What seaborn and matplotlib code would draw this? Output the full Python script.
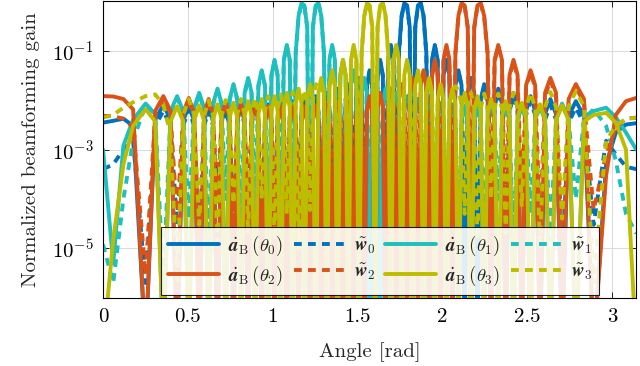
"""
Normalized beamforming gain of the derivative steering vectors a_B(theta_i)
and their hybrid approximations w_i over the angle range [0, pi].
"""

import matplotlib
matplotlib.use("Agg")
import matplotlib.pyplot as plt
from matplotlib.ticker import NullLocator
import seaborn as sns

NUL = 1e-7  # deep null, drawn below the axis floor

# angle grid [rad]
ANGLES = [
    0.0000, 0.0600, 0.1200, 0.1770, 0.2507, 0.3074, 0.3554, 0.3979, 0.4365, 0.4721, 0.5054, 0.5368,
    0.5666, 0.5950, 0.6224, 0.6487, 0.6746, 0.6988, 0.7227, 0.7461, 0.7688, 0.7910,
    0.8127, 0.8341, 0.8550, 0.8754, 0.8957, 0.9155, 0.9351, 0.9544, 0.9734, 0.9922,
    1.0107, 1.0291, 1.0472, 1.0652, 1.0829, 1.1005, 1.1180, 1.1353, 1.1524, 1.1695,
    1.1864, 1.2032, 1.2199, 1.2365, 1.2530, 1.2694, 1.2857, 1.3020, 1.3181, 1.3342,
    1.3503, 1.3663, 1.3822, 1.3981, 1.4139, 1.4297, 1.4455, 1.4612, 1.4769, 1.4926,
    1.5083, 1.5239, 1.5395, 1.5552, 1.5708, 1.5864, 1.6021, 1.6177, 1.6333, 1.6490,
    1.6647, 1.6804, 1.6961, 1.7119, 1.7277, 1.7435, 1.7594, 1.7753, 1.7913, 1.8074,
    1.8235, 1.8396, 1.8559, 1.8722, 1.8886, 1.9051, 1.9217, 1.9384, 1.9552, 1.9721,
    1.9892, 2.0063, 2.0236, 2.0411, 2.0587, 2.0764, 2.0944, 2.1125, 2.1309, 2.1494,
    2.1682, 2.1872, 2.2065, 2.2261, 2.2459, 2.2662, 2.2866, 2.3075, 2.3289, 2.3506,
    2.3728, 2.3955, 2.4189, 2.4428, 2.4670, 2.4929, 2.5192, 2.5466, 2.5750, 2.6048,
    2.6362, 2.6695, 2.7051, 2.7437, 2.7862, 2.8342, 2.8909, 2.9646, 3.0216, 3.0816, 3.1416,
]

# a_B(theta_0), blue
GAIN_A0 = [
    3.5e-3, 3.8e-3, 4.2e-3, 3.0e-3, NUL, 4.0e-3, 8.0e-3, 4.0e-3, NUL, 3.8e-3, 7.6e-3, 3.8e-3,
    NUL, 3.7e-3, 7.4e-3, 3.7e-3, NUL, 3.7e-3, 7.4e-3, 3.7e-3, NUL, 3.7e-3,
    7.5e-3, 3.7e-3, NUL, 3.9e-3, 7.8e-3, 3.9e-3, NUL, 4.1e-3, 8.2e-3, 4.1e-3,
    NUL, 4.4e-3, 8.8e-3, 4.4e-3, NUL, 4.7e-3, 9.5e-3, 4.7e-3, NUL, 5.2e-3,
    1.05e-2, 5.2e-3, NUL, 6.0e-3, 1.2e-2, 6.0e-3, NUL, 7.0e-3, 1.4e-2, 7.0e-3,
    NUL, 8.5e-3, 1.7e-2, 8.5e-3, NUL, 1.05e-2, 2.1e-2, 1.05e-2, NUL, 1.4e-2,
    2.8e-2, 1.4e-2, NUL, 2.0e-2, 4.0e-2, 2.0e-2, NUL, 3.2e-2, 6.5e-2, 3.2e-2,
    NUL, 6.5e-2, 0.13, 6.5e-2, NUL, 0.09, 0.51, 0.91, 0.82, 0.30,
    NUL, 0.30, 0.82, 0.91, 0.51, 0.09, NUL, 6.5e-2, 0.13, 6.5e-2,
    NUL, 3.2e-2, 6.5e-2, 3.2e-2, NUL, 2.0e-2, 4.0e-2, 2.0e-2, NUL, 1.4e-2,
    2.8e-2, 1.4e-2, NUL, 1.05e-2, 2.1e-2, 1.05e-2, NUL, 8.5e-3, 1.7e-2, 8.5e-3,
    NUL, 7.0e-3, 1.4e-2, 7.0e-3, NUL, 6.0e-3, 1.2e-2, 6.0e-3, NUL, 5.2e-3,
    1.05e-2, 5.2e-3, NUL, 4.7e-3, 9.5e-3, 4.7e-3, NUL, 5e-4, 2.2e-3, 3.2e-3, 3.4e-3,
]

# w_0, blue dashed
GAIN_W0 = [
    4e-4, 5e-4, 1.0e-3, 1.5e-3, 2e-6, 3.0e-3, 6.0e-3, 3.0e-3, 3e-5, 3.0e-3, 6.5e-3, 3.0e-3,
    1e-5, 3.0e-3, 6.0e-3, 3.0e-3, 8e-5, 3.0e-3, 6.2e-3, 3.0e-3, 2e-5, 3.2e-3,
    6.5e-3, 3.2e-3, 1e-4, 3.3e-3, 6.8e-3, 3.3e-3, 1.5e-5, 3.6e-3, 7.2e-3, 3.6e-3,
    6e-5, 4.0e-3, 7.8e-3, 4.0e-3, 2e-5, 4.2e-3, 8.5e-3, 4.2e-3, 1e-4, 4.6e-3,
    9.5e-3, 4.6e-3, 3e-5, 5.5e-3, 1.1e-2, 5.5e-3, 8e-6, 6.5e-3, 1.3e-2, 6.5e-3,
    5e-5, 8.0e-3, 1.6e-2, 8.0e-3, 2e-5, 1.0e-2, 2.0e-2, 1.0e-2, 1e-4, 1.3e-2,
    2.7e-2, 1.3e-2, 3e-5, 1.9e-2, 3.8e-2, 1.9e-2, 1e-5, 3.0e-2, 6.0e-2, 3.0e-2,
    2e-4, 6.0e-2, 0.12, 6.0e-2, 5e-5, 0.08, 0.48, 0.88, 0.80, 0.28,
    1e-6, 0.28, 0.80, 0.90, 0.50, 0.085, 4e-5, 6.0e-2, 0.125, 6.0e-2,
    1e-5, 3.0e-2, 6.2e-2, 3.0e-2, 1.5e-4, 1.9e-2, 3.8e-2, 1.9e-2, 3e-5, 1.3e-2,
    2.6e-2, 1.3e-2, 8e-6, 9.5e-3, 1.9e-2, 9.5e-3, 6e-5, 7.5e-3, 1.5e-2, 7.5e-3,
    2e-5, 6.0e-3, 1.2e-2, 6.0e-3, 1e-4, 5.0e-3, 9.5e-3, 5.0e-3, 2e-5, 4.0e-3,
    8.0e-3, 4.0e-3, 5e-6, 3.5e-3, 7.0e-3, 3.3e-3, 3e-5, 1.5e-3, 8e-4, 4.5e-4, 4e-4,
]

# a_B(theta_1), cyan
GAIN_A1 = [
    1.0e-3, 5e-6, 1.2e-3, 4.0e-3, 8.5e-3, 5.2e-3, NUL, 6.0e-3, 1.2e-2, 6.0e-3, NUL, 7.0e-3,
    1.4e-2, 7.0e-3, NUL, 8.5e-3, 1.7e-2, 8.5e-3, NUL, 1.05e-2, 2.1e-2, 1.05e-2,
    NUL, 1.4e-2, 2.8e-2, 1.4e-2, NUL, 2.0e-2, 4.0e-2, 2.0e-2, NUL, 3.2e-2,
    6.5e-2, 3.2e-2, NUL, 6.5e-2, 0.13, 6.5e-2, NUL, 0.09, 0.51, 0.91,
    0.82, 0.30, NUL, 0.30, 0.82, 0.91, 0.51, 0.09, NUL, 6.5e-2,
    0.13, 6.5e-2, NUL, 3.2e-2, 6.5e-2, 3.2e-2, NUL, 2.0e-2, 4.0e-2, 2.0e-2,
    NUL, 1.4e-2, 2.8e-2, 1.4e-2, NUL, 1.05e-2, 2.1e-2, 1.05e-2, NUL, 8.5e-3,
    1.7e-2, 8.5e-3, NUL, 7.0e-3, 1.4e-2, 7.0e-3, NUL, 6.0e-3, 1.2e-2, 6.0e-3,
    NUL, 5.2e-3, 1.05e-2, 5.2e-3, NUL, 4.7e-3, 9.5e-3, 4.7e-3, NUL, 4.4e-3,
    8.8e-3, 4.4e-3, NUL, 4.1e-3, 8.2e-3, 4.1e-3, NUL, 3.9e-3, 7.8e-3, 3.9e-3,
    NUL, 3.7e-3, 7.5e-3, 3.7e-3, NUL, 3.7e-3, 7.4e-3, 3.7e-3, NUL, 3.7e-3,
    7.4e-3, 3.7e-3, NUL, 3.8e-3, 7.6e-3, 3.8e-3, NUL, 4.0e-3, 8.0e-3, 4.0e-3,
    NUL, 4.2e-3, 8.5e-3, 4.2e-3, NUL, 4.6e-3, 6.0e-3, 7.0e-3, 4.5e-3, 2.2e-3, 1.0e-3,
]

# w_1, cyan dashed
GAIN_W1 = [
    1.2e-5, 2e-6, 1e-4, 1.5e-3, 8.0e-3, 5.0e-3, 2e-6, 5.5e-3, 1.1e-2, 5.5e-3, 4e-5, 6.5e-3,
    1.3e-2, 6.5e-3, 1e-5, 8.0e-3, 1.6e-2, 8.0e-3, 1e-4, 1.0e-2, 2.0e-2, 1.0e-2,
    2e-5, 1.3e-2, 2.7e-2, 1.3e-2, 6e-5, 1.9e-2, 3.8e-2, 1.9e-2, 1e-5, 3.0e-2,
    6.2e-2, 3.0e-2, 1.5e-4, 6.2e-2, 0.125, 6.2e-2, 3e-5, 0.085, 0.49, 0.88,
    0.80, 0.29, 1e-6, 0.29, 0.80, 0.90, 0.50, 0.085, 2e-5, 6.2e-2,
    0.125, 6.2e-2, 1e-4, 3.0e-2, 6.2e-2, 3.0e-2, 1e-5, 1.9e-2, 3.8e-2, 1.9e-2,
    5e-5, 1.3e-2, 2.7e-2, 1.3e-2, 2e-5, 1.0e-2, 2.0e-2, 1.0e-2, 1.2e-4, 8.0e-3,
    1.6e-2, 8.0e-3, 1e-5, 6.8e-3, 1.35e-2, 6.8e-3, 6e-5, 5.8e-3, 1.15e-2, 5.8e-3,
    2e-5, 5.0e-3, 1.0e-2, 5.0e-3, 1e-4, 4.6e-3, 9.2e-3, 4.6e-3, 1.5e-5, 4.3e-3,
    8.5e-3, 4.3e-3, 5e-5, 4.0e-3, 8.0e-3, 4.0e-3, 1e-5, 3.8e-3, 7.6e-3, 3.8e-3,
    8e-5, 3.6e-3, 7.2e-3, 3.6e-3, 2e-5, 3.5e-3, 7.1e-3, 3.5e-3, 1e-4, 3.5e-3,
    7.0e-3, 3.5e-3, 1e-5, 3.6e-3, 7.2e-3, 3.6e-3, 5e-5, 3.8e-3, 7.5e-3, 3.8e-3,
    1.5e-5, 4.0e-3, 8.0e-3, 4.0e-3, 1e-4, 4.2e-3, 6.5e-3, 3.0e-3, 6e-4, 5e-5, 2e-5,
]

# a_B(theta_2), orange
GAIN_A2 = [
    1.2e-2, 1.18e-2, 1.05e-2, 6.5e-3, NUL, 6.0e-3, 1.2e-2, 6.0e-3, NUL, 5.5e-3, 1.1e-2, 5.5e-3,
    NUL, 5.2e-3, 1.05e-2, 5.2e-3, NUL, 4.6e-3, 9.3e-3, 4.6e-3, NUL, 4.2e-3,
    8.5e-3, 4.2e-3, NUL, 4.0e-3, 8.0e-3, 4.0e-3, NUL, 3.8e-3, 7.6e-3, 3.8e-3,
    NUL, 3.7e-3, 7.4e-3, 3.7e-3, NUL, 3.7e-3, 7.4e-3, 3.7e-3, NUL, 3.7e-3,
    7.5e-3, 3.7e-3, NUL, 3.9e-3, 7.8e-3, 3.9e-3, NUL, 4.1e-3, 8.2e-3, 4.1e-3,
    NUL, 4.4e-3, 8.8e-3, 4.4e-3, NUL, 4.7e-3, 9.5e-3, 4.7e-3, NUL, 5.2e-3,
    1.05e-2, 5.2e-3, NUL, 6.0e-3, 1.2e-2, 6.0e-3, NUL, 7.0e-3, 1.4e-2, 7.0e-3,
    NUL, 8.5e-3, 1.7e-2, 8.5e-3, NUL, 1.05e-2, 2.1e-2, 1.05e-2, NUL, 1.4e-2,
    2.8e-2, 1.4e-2, NUL, 2.0e-2, 4.0e-2, 2.0e-2, NUL, 3.2e-2, 6.5e-2, 3.2e-2,
    NUL, 6.5e-2, 0.13, 6.5e-2, NUL, 0.09, 0.51, 0.91, 0.82, 0.30,
    NUL, 0.30, 0.82, 0.91, 0.51, 0.09, NUL, 6.5e-2, 0.13, 6.5e-2,
    NUL, 3.2e-2, 6.5e-2, 3.2e-2, NUL, 2.0e-2, 4.0e-2, 2.0e-2, NUL, 1.4e-2,
    2.8e-2, 1.4e-2, NUL, 1.05e-2, 2.1e-2, 1.05e-2, NUL, 3e-4, 5.0e-3, 9.5e-3, 1.1e-2,
]

# w_2, orange dashed
GAIN_W2 = [
    4.8e-3, 4.7e-3, 4.2e-3, 2.8e-3, 3e-6, 5.0e-3, 1.05e-2, 5.0e-3, 4e-5, 4.8e-3, 9.8e-3, 4.8e-3,
    1e-5, 4.5e-3, 9.0e-3, 4.5e-3, 1e-4, 4.2e-3, 8.5e-3, 4.2e-3, 2e-5, 4.0e-3,
    8.0e-3, 4.0e-3, 6e-5, 3.6e-3, 7.2e-3, 3.6e-3, 1e-5, 3.5e-3, 7.1e-3, 3.5e-3,
    1.2e-4, 3.4e-3, 6.9e-3, 3.4e-3, 2e-5, 3.5e-3, 7.0e-3, 3.5e-3, 5e-5, 3.6e-3,
    7.2e-3, 3.6e-3, 8e-6, 3.8e-3, 7.6e-3, 3.8e-3, 1e-4, 4.0e-3, 8.0e-3, 4.0e-3,
    3e-5, 4.3e-3, 8.6e-3, 4.3e-3, 1e-5, 4.6e-3, 9.2e-3, 4.6e-3, 7e-5, 5.0e-3,
    1.0e-2, 5.0e-3, 2e-5, 5.8e-3, 1.15e-2, 5.8e-3, 1.5e-4, 6.8e-3, 1.35e-2, 6.8e-3,
    3e-5, 8.0e-3, 1.6e-2, 8.0e-3, 1e-5, 1.0e-2, 2.0e-2, 1.0e-2, 6e-5, 1.3e-2,
    2.7e-2, 1.3e-2, 2e-5, 1.9e-2, 3.8e-2, 1.9e-2, 1e-4, 3.0e-2, 6.2e-2, 3.0e-2,
    3e-5, 6.2e-2, 0.125, 6.2e-2, 1e-5, 0.085, 0.50, 0.90, 0.80, 0.28,
    1e-6, 0.28, 0.80, 0.88, 0.48, 0.085, 5e-5, 6.0e-2, 0.12, 6.0e-2,
    2e-5, 3.0e-2, 6.0e-2, 3.0e-2, 1e-4, 1.8e-2, 3.6e-2, 1.8e-2, 3e-5, 1.2e-2,
    2.5e-2, 1.2e-2, 1e-5, 9.0e-3, 1.8e-2, 9.0e-3, 6e-5, 8e-4, 2.8e-3, 4.2e-3, 4.4e-3,
]

# a_B(theta_3), olive
GAIN_A3 = [
    NUL, 1.5e-5, 5e-4, 3.0e-3, 6.5e-3, 3.7e-3, NUL, 3.7e-3, 7.5e-3, 3.7e-3, NUL, 3.9e-3,
    7.8e-3, 3.9e-3, NUL, 4.1e-3, 8.2e-3, 4.1e-3, NUL, 4.4e-3, 8.8e-3, 4.4e-3,
    NUL, 4.7e-3, 9.5e-3, 4.7e-3, NUL, 5.2e-3, 1.05e-2, 5.2e-3, NUL, 6.0e-3,
    1.2e-2, 6.0e-3, NUL, 7.0e-3, 1.4e-2, 7.0e-3, NUL, 8.5e-3, 1.7e-2, 8.5e-3,
    NUL, 1.05e-2, 2.1e-2, 1.05e-2, NUL, 1.4e-2, 2.8e-2, 1.4e-2, NUL, 2.0e-2,
    4.0e-2, 2.0e-2, NUL, 3.2e-2, 6.5e-2, 3.2e-2, NUL, 6.5e-2, 0.13, 6.5e-2,
    NUL, 0.09, 0.51, 0.91, 0.82, 0.30, NUL, 0.30, 0.82, 0.91,
    0.51, 0.09, NUL, 6.5e-2, 0.13, 6.5e-2, NUL, 3.2e-2, 6.5e-2, 3.2e-2,
    NUL, 2.0e-2, 4.0e-2, 2.0e-2, NUL, 1.4e-2, 2.8e-2, 1.4e-2, NUL, 1.05e-2,
    2.1e-2, 1.05e-2, NUL, 8.5e-3, 1.7e-2, 8.5e-3, NUL, 7.0e-3, 1.4e-2, 7.0e-3,
    NUL, 6.0e-3, 1.2e-2, 6.0e-3, NUL, 5.2e-3, 1.05e-2, 5.2e-3, NUL, 4.7e-3,
    9.5e-3, 4.7e-3, NUL, 4.4e-3, 8.8e-3, 4.4e-3, NUL, 4.1e-3, 8.2e-3, 4.1e-3,
    NUL, 3.9e-3, 7.8e-3, 3.9e-3, NUL, 3.7e-3, 5.0e-3, 5.5e-3, 3.5e-3, 1.0e-3, NUL,
]

# w_3, olive dashed
GAIN_W3 = [
    4.4e-3, 5.0e-3, 7.0e-3, 9.0e-3, 1.2e-2, 1.3e-2, 8.0e-3, 2.0e-3, 2e-6, 5.0e-3, 1.05e-2, 5.0e-3,
    3e-5, 4.8e-3, 9.8e-3, 4.8e-3, 1e-5, 5.0e-3, 1.0e-2, 5.0e-3, 8e-5, 5.2e-3,
    1.05e-2, 5.2e-3, 2e-5, 5.5e-3, 1.1e-2, 5.5e-3, 1e-4, 6.0e-3, 1.2e-2, 6.0e-3,
    1.5e-5, 6.5e-3, 1.3e-2, 6.5e-3, 5e-5, 7.2e-3, 1.45e-2, 7.2e-3, 1e-5, 8.0e-3,
    1.6e-2, 8.0e-3, 6e-5, 1.0e-2, 2.0e-2, 2.4e-2, 2.0e-2, 1.0e-2, 2e-5, 1.9e-2,
    3.8e-2, 1.9e-2, 1e-4, 3.0e-2, 6.2e-2, 3.0e-2, 3e-5, 6.2e-2, 0.125, 6.2e-2,
    1e-5, 0.085, 0.49, 0.90, 0.80, 0.29, 1e-6, 0.29, 0.80, 0.90,
    0.50, 0.085, 4e-5, 6.2e-2, 0.125, 6.2e-2, 1e-5, 3.0e-2, 6.2e-2, 3.0e-2,
    1e-4, 1.9e-2, 3.8e-2, 1.9e-2, 2e-5, 1.3e-2, 2.7e-2, 1.3e-2, 6e-5, 1.0e-2,
    2.0e-2, 1.0e-2, 1e-5, 8.0e-3, 1.6e-2, 1.9e-2, 1.6e-2, 8.0e-3, 5e-5, 7.0e-3,
    1.4e-2, 7.0e-3, 1.5e-5, 6.8e-3, 1.35e-2, 6.8e-3, 1e-4, 6.8e-3, 1.35e-2, 6.8e-3,
    2e-5, 7.0e-3, 1.4e-2, 7.0e-3, 7e-5, 7.0e-3, 1.4e-2, 7.0e-3, 1e-5, 7.2e-3,
    1.45e-2, 7.2e-3, 4e-5, 7.5e-3, 1.5e-2, 7.5e-3, 2e-6, 1.5e-3, 3.0e-3, 4.2e-3, 4.4e-3,
]

# plotting order: a0, w0, a1, w1, a2, w2, a3, w3
SERIES = [GAIN_A0, GAIN_W0, GAIN_A1, GAIN_W1, GAIN_A2, GAIN_W2, GAIN_A3, GAIN_W3]
LABELS = [
    r"$\dot{\boldsymbol{a}}_{\mathrm{B}}\,(\theta_0)$", r"$\tilde{\boldsymbol{w}}_0$",
    r"$\dot{\boldsymbol{a}}_{\mathrm{B}}\,(\theta_1)$", r"$\tilde{\boldsymbol{w}}_1$",
    r"$\dot{\boldsymbol{a}}_{\mathrm{B}}\,(\theta_2)$", r"$\tilde{\boldsymbol{w}}_2$",
    r"$\dot{\boldsymbol{a}}_{\mathrm{B}}\,(\theta_3)$", r"$\tilde{\boldsymbol{w}}_3$",
]
COLORS = ["#0072BD", "#0072BD", "#1DBFBF", "#1DBFBF",
          "#D95319", "#D95319", "#BDBD00", "#BDBD00"]

X_TICKS = [0, 0.5, 1, 1.5, 2, 2.5, 3]
X_TICK_LABELS = ["0", "0.5", "1", "1.5", "2", "2.5", "3"]
Y_TICKS = [1e-5, 1e-3, 1e-1]


def main():
    sns.set_style("ticks")
    plt.rcParams.update({
        "font.family": "serif",
        "font.serif": ["cmr10", "DejaVu Serif"],
        "mathtext.fontset": "cm",
        "axes.formatter.use_mathtext": True,
        "font.size": 15,
    })

    fig = plt.figure(figsize=(6.4, 3.66), dpi=100)
    ax = fig.add_axes([0.161, 0.186, 0.833, 0.811])

    handles = []
    for i, (gain, label, color) in enumerate(zip(SERIES, LABELS, COLORS)):
        dashed = i % 2 == 1
        sns.lineplot(
            x=ANGLES, y=gain, ax=ax, color=color, linewidth=2.8,
            linestyle=(0, (2.0, 1.6)) if dashed else "-",
            label=label, sort=False, estimator=None, legend=False,
        )
        handles.append(ax.lines[-1])

    ax.set_yscale("log")
    ax.set_xlim(0, 3.1416)
    ax.set_ylim(1e-6, 1)
    ax.set_xticks(X_TICKS)
    ax.set_xticklabels(X_TICK_LABELS)
    ax.set_yticks(Y_TICKS)
    ax.yaxis.set_minor_locator(NullLocator())
    ax.tick_params(direction="in", length=4, width=0.6, top=True, right=True,
                   labelsize=15, colors="black", pad=7)
    ax.grid(True, color="#dcdcdc", linewidth=0.8)
    ax.set_axisbelow(True)
    for spine in ax.spines.values():
        spine.set_color("black")
        spine.set_linewidth(0.8)

    ax.set_xlabel("Angle [rad]", fontsize=15, labelpad=12)
    ax.set_ylabel("Normalized beamforming gain", fontsize=15, labelpad=8)

    # 4 columns, filled column-wise -> rows: (a0 w0 a1 w1), (a2 w2 a3 w3)
    order = [0, 4, 1, 5, 2, 6, 3, 7]
    leg = ax.legend(
        [handles[k] for k in order], [LABELS[k] for k in order],
        ncol=4, loc="lower center", bbox_to_anchor=(0.52, 0.004),
        borderaxespad=0.1, fontsize=13.5, handlelength=2.7, columnspacing=0.55,
        handletextpad=0.5, borderpad=0.38, labelspacing=0.3, fancybox=False,
        framealpha=0.88, edgecolor="black",
    )
    leg.get_frame().set_linewidth(0.8)

    fig.savefig("out.png", dpi=100)


if __name__ == "__main__":
    main()
